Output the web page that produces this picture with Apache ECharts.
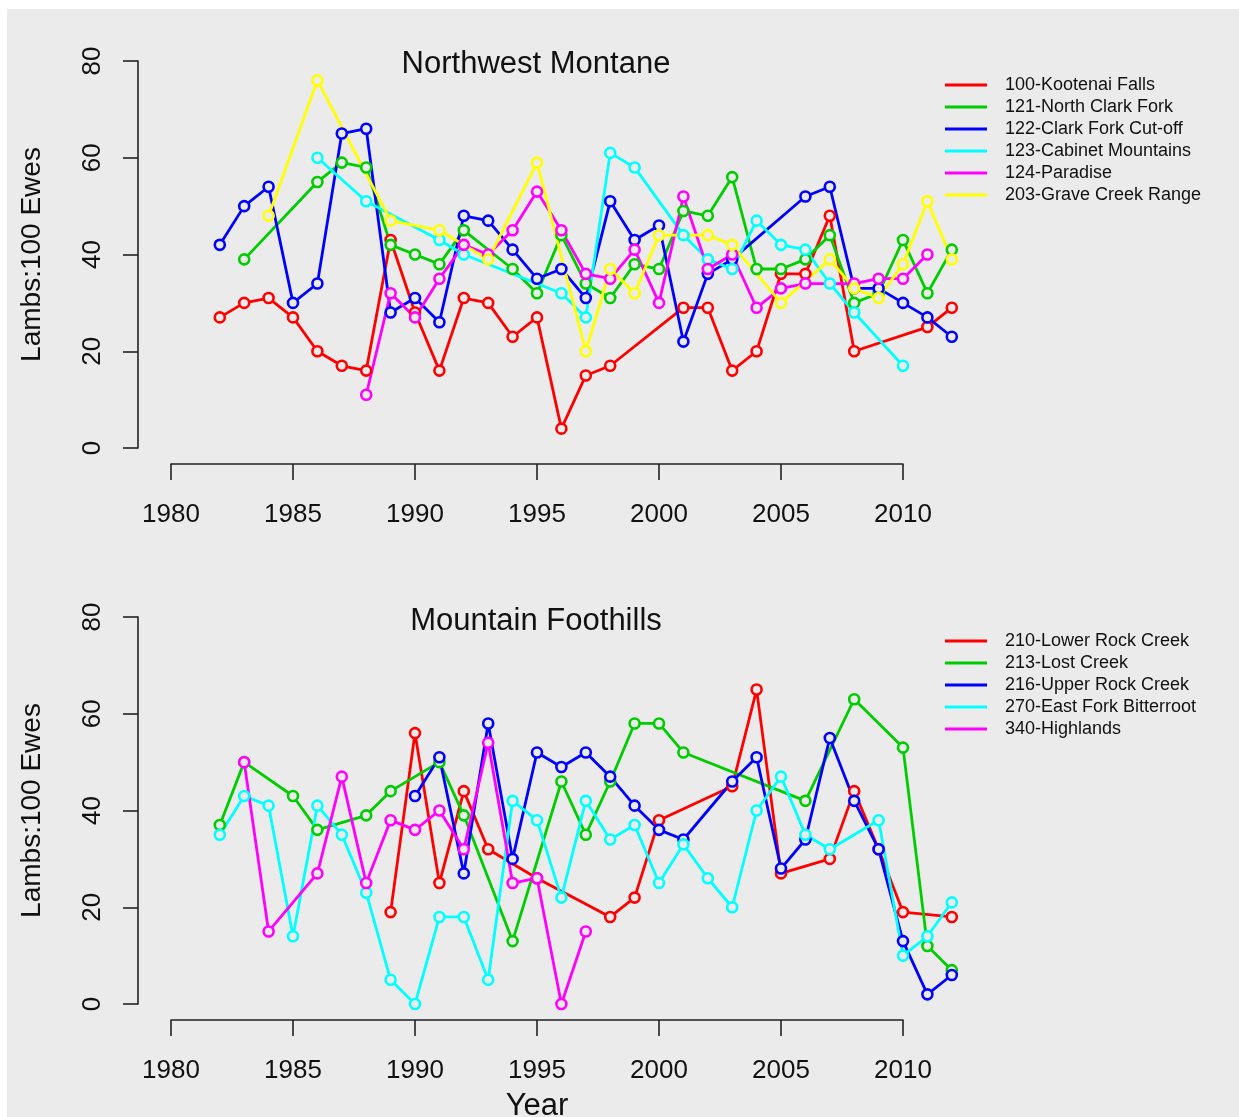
<!DOCTYPE html>
<html>
<head>
<meta charset="utf-8">
<script src="https://cdn.jsdelivr.net/npm/echarts@6/dist/echarts.min.js"></script>
<style>
  html, body { margin: 0; padding: 0; background: #ffffff; }
  #bg { position: absolute; left: 7px; top: 9px; width: 1232px; height: 1108px; background: #EBEBEB; }
  #chart { position: absolute; left: 0; top: 0; width: 1239px; height: 1117px; }
</style>
</head>
<body>
<div id="bg"></div>
<div id="chart"></div>
<script>
// ---------------- DATA ----------------
const xTicks = [1980, 1985, 1990, 1995, 2000, 2005, 2010];
const yTicks = [0, 20, 40, 60, 80];
const xDataMax = 2013;   // plotting region extends past the last tick (R style)

const topTitle = 'Northwest Montane';
const bottomTitle = 'Mountain Foothills';
const yName = 'Lambs:100 Ewes';
const xName = 'Year';

const topNames = ['100-Kootenai Falls', '121-North Clark Fork', '122-Clark Fork Cut-off',
                  '123-Cabinet Mountains', '124-Paradise', '203-Grave Creek Range'];
const bottomNames = ['210-Lower Rock Creek', '213-Lost Creek', '216-Upper Rock Creek',
                     '270-East Fork Bitterroot', '340-Highlands'];

// Northwest Montane  [year, lambs per 100 ewes]
const kootenaiFalls = [[1982,27],[1983,30],[1984,31],[1985,27],[1986,20],[1987,17],[1988,16],[1989,43],
  [1990,28],[1991,16],[1992,31],[1993,30],[1994,23],[1995,27],[1996,4],[1997,15],[1998,17],
  [2001,29],[2002,29],[2003,16],[2004,20],[2005,36],[2006,36],[2007,48],[2008,20],[2011,25],[2012,29]];
const northClarkFork = [[1983,39],[1986,55],[1987,59],[1988,58],[1989,42],[1990,40],[1991,38],[1992,45],
  [1994,37],[1995,32],[1996,44],[1997,34],[1998,31],[1999,38],[2000,37],[2001,49],[2002,48],[2003,56],
  [2004,37],[2005,37],[2006,39],[2007,44],[2008,30],[2009,32],[2010,43],[2011,32],[2012,41]];
const clarkForkCutoff = [[1982,42],[1983,50],[1984,54],[1985,30],[1986,34],[1987,65],[1988,66],[1989,28],
  [1990,31],[1991,26],[1992,48],[1993,47],[1994,41],[1995,35],[1996,37],[1997,31],[1998,51],[1999,43],
  [2000,46],[2001,22],[2002,36],[2003,39],[2006,52],[2007,54],[2008,33],[2009,33],[2010,30],[2011,27],[2012,23]];
const cabinetMountains = [[1986,60],[1988,51],[1991,43],[1992,40],[1996,32],[1997,27],[1998,61],[1999,58],
  [2001,44],[2002,39],[2003,37],[2004,47],[2005,42],[2006,41],[2007,34],[2008,28],[2010,17]];
const paradise = [[1988,11],[1989,32],[1990,27],[1991,35],[1992,42],[1993,40],[1994,45],[1995,53],[1996,45],
  [1997,36],[1998,35],[1999,41],[2000,30],[2001,52],[2002,37],[2003,40],[2004,29],[2005,33],[2006,34],
  [2008,34],[2009,35],[2010,35],[2011,40]];
const graveCreekRange = [[1984,48],[1986,76],[1989,47],[1991,45],[1993,39],[1995,59],[1997,20],[1998,37],
  [1999,32],[2000,44],[2002,44],[2003,42],[2005,30],[2007,39],[2008,33],[2009,31],[2010,38],[2011,51],[2012,39]];

// Mountain Foothills
const lowerRockCreek = [[1989,19],[1990,56],[1991,25],[1992,44],[1993,32],[1995,26],[1998,18],[1999,22],
  [2000,38],[2003,45],[2004,65],[2005,27],[2007,30],[2008,44],[2009,32],[2010,19],[2012,18]];
const lostCreek = [[1982,37],[1983,50],[1985,43],[1986,36],[1988,39],[1989,44],[1991,50],[1992,39],[1994,13],
  [1996,46],[1997,35],[1998,46],[1999,58],[2000,58],[2001,52],[2006,42],[2008,63],[2010,53],[2011,12],[2012,7]];
const upperRockCreek = [[1990,43],[1991,51],[1992,27],[1993,58],[1994,30],[1995,52],[1996,49],[1997,52],
  [1998,47],[1999,41],[2000,36],[2001,34],[2003,46],[2004,51],[2005,28],[2006,34],[2007,55],[2008,42],
  [2009,32],[2010,13],[2011,2],[2012,6]];
const eastForkBitterroot = [[1982,35],[1983,43],[1984,41],[1985,14],[1986,41],[1987,35],[1988,23],[1989,5],
  [1990,0],[1991,18],[1992,18],[1993,5],[1994,42],[1995,38],[1996,22],[1997,42],[1998,34],[1999,37],
  [2000,25],[2001,33],[2002,26],[2003,20],[2004,40],[2005,47],[2006,35],[2007,32],[2009,38],[2010,10],
  [2011,14],[2012,21]];
const highlands = [[1983,50],[1984,15],[1986,27],[1987,47],[1988,25],[1989,38],[1990,36],[1991,40],[1992,32],
  [1993,54],[1994,25],[1995,26],[1996,0],[1997,15]];

const topData = [kootenaiFalls, northClarkFork, clarkForkCutoff, cabinetMountains, paradise, graveCreekRange];
const bottomData = [lowerRockCreek, lostCreek, upperRockCreek, eastForkBitterroot, highlands];

const palette = ['#FF0000', '#00CD00', '#0000FF', '#00FFFF', '#FF00FF', '#FFFF00'];

// ---------------- CHART ----------------
const FONT = '"Liberation Sans", Arial, Helvetica, sans-serif';
const INK = '#111111';
const AXIS = '#222222';
const BG = '#EBEBEB';

const plotLeft = 171, plotW = 732, plotH = 387;
const topY = 61, botY = 617;
const xMin = xTicks[0], xMax = xTicks[xTicks.length - 1];
const dataW = plotW * (xDataMax - xMin) / (xMax - xMin);

function xAxisVisible(gi, withName) {
  return {
    type: 'value', gridIndex: gi, min: xMin, max: xMax,
    interval: xTicks[1] - xTicks[0], offset: 16,
    axisLine: { show: true, onZero: false, lineStyle: { color: AXIS, width: 1.6 } },
    axisTick: { show: true, length: 16, lineStyle: { color: AXIS, width: 1.6 } },
    axisLabel: { color: INK, fontSize: 26, fontFamily: FONT, margin: 38,
                 showMinLabel: true, showMaxLabel: true, formatter: v => String(v) },
    splitLine: { show: false },
    name: withName ? xName : '', nameLocation: 'middle', nameGap: 71,
    nameTextStyle: { fontSize: 31, color: INK, fontFamily: FONT }
  };
}
function yAxisVisible(gi) {
  return {
    type: 'value', gridIndex: gi, min: yTicks[0], max: yTicks[yTicks.length - 1],
    interval: yTicks[1] - yTicks[0], offset: 33,
    axisLine: { show: true, onZero: false, lineStyle: { color: AXIS, width: 1.6 } },
    axisTick: { show: true, length: 15, lineStyle: { color: AXIS, width: 1.6 } },
    axisLabel: { color: INK, fontSize: 26, fontFamily: FONT, rotate: 90, margin: 32,
                 showMinLabel: true, showMaxLabel: true },
    splitLine: { show: false },
    name: yName, nameLocation: 'middle', nameRotate: 90, nameGap: 92,
    nameTextStyle: { fontSize: 28, color: INK, fontFamily: FONT }
  };
}
function xAxisData(gi) {
  return { type: 'value', gridIndex: gi, min: xMin, max: xDataMax, show: false,
           splitLine: { show: false } };
}
function yAxisData(gi) {
  return { type: 'value', gridIndex: gi, min: yTicks[0], max: yTicks[yTicks.length - 1], show: false,
           splitLine: { show: false } };
}
function seriesDef(name, data, color, gi) {
  return {
    type: 'line', name: name, data: data, xAxisIndex: gi, yAxisIndex: gi,
    clip: false, showAllSymbol: true, symbol: 'circle', symbolSize: 10,
    lineStyle: { color: color, width: 2.8 },
    itemStyle: { color: BG, borderColor: color, borderWidth: 2.6 },
    emphasis: { disabled: true }, animation: false
  };
}
function legendDef(names, top) {
  return {
    orient: 'vertical', left: 945, top: top, padding: 0,
    itemWidth: 42, itemHeight: 3, itemGap: 0, icon: 'rect', selectedMode: false,
    data: names.map((n, i) => ({ name: n, itemStyle: { color: palette[i], borderWidth: 0 } })),
    textStyle: { fontSize: 18, lineHeight: 22, color: INK, fontFamily: FONT, padding: [0, 0, 0, 13] }
  };
}
function gridDef(top, width) {
  return { left: plotLeft, top: top, width: width, height: plotH,
           containLabel: false, outerBoundsMode: 'none' };
}

const series = [];
topNames.forEach((n, i) => series.push(seriesDef(n, topData[i], palette[i], 1)));
bottomNames.forEach((n, i) => series.push(seriesDef(n, bottomData[i], palette[i], 3)));

const option = {
  backgroundColor: 'transparent',
  animation: false,
  textStyle: { fontFamily: FONT },
  title: [
    { text: topTitle, left: 536, top: 49, textAlign: 'center', padding: 0,
      textStyle: { fontSize: 31, fontWeight: 'normal', color: INK, fontFamily: FONT } },
    { text: bottomTitle, left: 536, top: 606, textAlign: 'center', padding: 0,
      textStyle: { fontSize: 31, fontWeight: 'normal', color: INK, fontFamily: FONT } }
  ],
  grid: [
    gridDef(topY, plotW),    // axes, top
    gridDef(topY, dataW),    // data, top
    gridDef(botY, plotW),    // axes, bottom
    gridDef(botY, dataW)     // data, bottom
  ],
  xAxis: [xAxisVisible(0, false), xAxisData(1), xAxisVisible(2, true), xAxisData(3)],
  yAxis: [yAxisVisible(0), yAxisData(1), yAxisVisible(2), yAxisData(3)],
  legend: [legendDef(topNames, 74), legendDef(bottomNames, 630)],
  series: series
};

const chart = echarts.init(document.getElementById('chart'), null, { renderer: 'canvas' });
chart.setOption(option);
</script>
</body>
</html>
